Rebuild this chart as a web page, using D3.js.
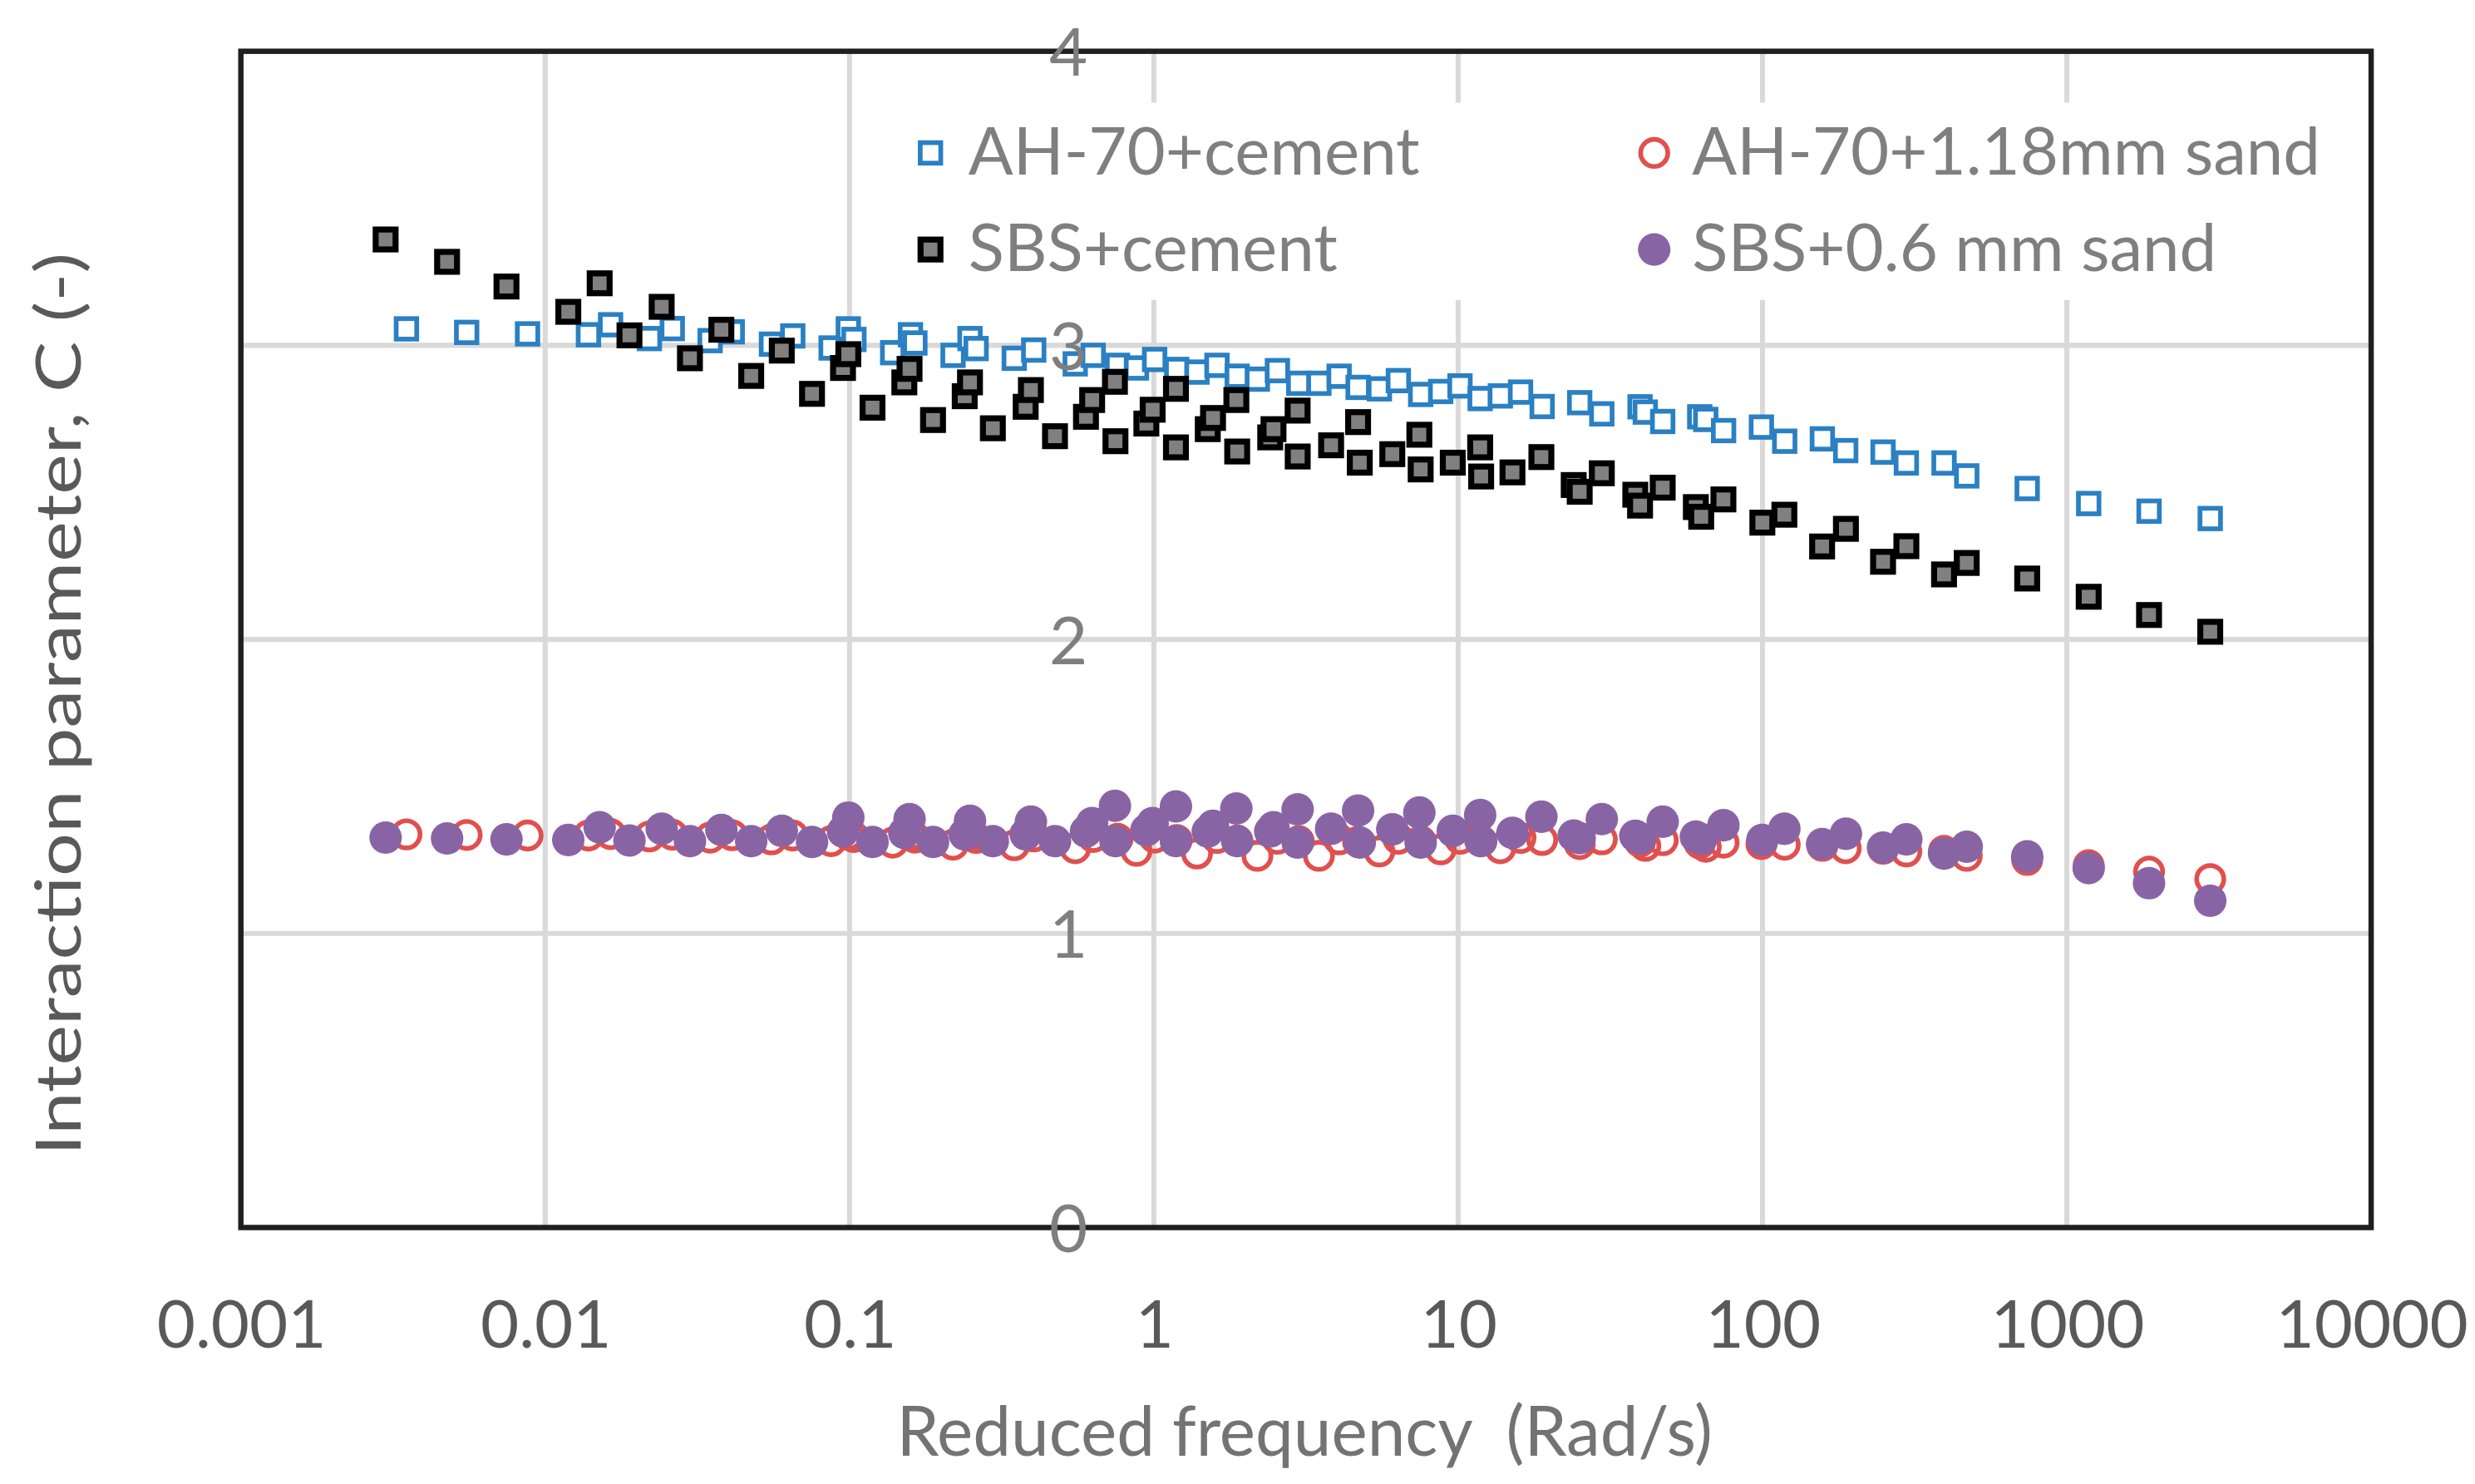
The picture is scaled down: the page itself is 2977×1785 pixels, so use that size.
<!DOCTYPE html>
<html>
<head>
<meta charset="utf-8">
<script src="https://cdn.jsdelivr.net/npm/d3@7"></script>
<style>
  html, body { margin: 0; padding: 0; background: #fff; }
  svg { display: block; }
  text { font-family: Lato, "Open Sans", sans-serif; }
</style>
</head>
<body>
<div id="chart"></div>
<script>
// Interaction parameter C vs reduced frequency, four mastics.

// AH-70 series share the same reduced frequencies (rad/s)
const freqAH = [0.0035, 0.00552, 0.00875, 0.01387, 0.0164, 0.022, 0.02616, 0.03483, 0.04117, 0.0554,
  0.0651, 0.087, 0.0991, 0.1034, 0.1386, 0.1586, 0.164, 0.2189, 0.2488, 0.2606,
  0.3478, 0.403, 0.5517, 0.632, 0.76, 0.877, 1.006, 1.189, 1.386, 1.612,
  1.879, 2.189, 2.547, 2.993, 3.487, 4.063, 4.69, 5.51, 6.36, 7.53,
  8.76, 10.14, 11.81, 13.76, 16.03, 18.88, 25.08, 29.65, 39.6, 41.2,
  47.0, 62.2, 65.1, 74.5, 99.2, 118.3, 157.3, 187.7, 249, 297,
  395, 469, 741, 1180, 1863, 2960];

const cAHcement = [3.056, 3.044, 3.039, 3.036, 3.070, 3.023, 3.057, 3.016, 3.046, 3.004,
  3.032, 2.991, 3.056, 3.020, 2.975, 3.036, 3.008, 2.966, 3.023, 2.989,
  2.956, 2.984, 2.937, 2.966, 2.932, 2.923, 2.952, 2.918, 2.909, 2.932,
  2.895, 2.885, 2.914, 2.871, 2.871, 2.895, 2.857, 2.852, 2.880, 2.833,
  2.843, 2.862, 2.819, 2.828, 2.841, 2.792, 2.805, 2.767, 2.791, 2.773,
  2.741, 2.757, 2.748, 2.710, 2.722, 2.674, 2.682, 2.642, 2.637, 2.600,
  2.600, 2.556, 2.513, 2.462, 2.436, 2.411];

const cAHsand = [1.337, 1.335, 1.333, 1.333, 1.338, 1.330, 1.336, 1.326, 1.334, 1.320,
  1.333, 1.314, 1.335, 1.328, 1.309, 1.334, 1.326, 1.302, 1.333, 1.325,
  1.300, 1.330, 1.290, 1.328, 1.322, 1.281, 1.326, 1.318, 1.272, 1.325,
  1.316, 1.264, 1.322, 1.314, 1.264, 1.320, 1.312, 1.279, 1.322, 1.314,
  1.286, 1.322, 1.315, 1.290, 1.325, 1.318, 1.304, 1.320, 1.312, 1.298,
  1.317, 1.306, 1.295, 1.309, 1.304, 1.302, 1.298, 1.290, 1.288, 1.279,
  1.281, 1.264, 1.250, 1.232, 1.210, 1.185];

// SBS series share their own frequencies
const freqSBS = [0.00299, 0.00476, 0.00746, 0.01191, 0.0151, 0.01892, 0.02414, 0.0299, 0.03792, 0.04753,
  0.0599, 0.0753, 0.0952, 0.0991, 0.119, 0.1514, 0.1575, 0.1881, 0.2391, 0.2488,
  0.2958, 0.3792, 0.3945, 0.4734, 0.5984, 0.627, 0.748, 0.745, 0.945, 0.991,
  1.182, 1.182, 1.504, 1.565, 1.867, 1.879, 2.412, 2.473, 2.968, 2.97,
  3.824, 4.69, 4.75, 6.075, 7.455, 7.53, 9.6, 11.81, 11.9, 15.08,
  18.77, 23.97, 25.08, 29.65, 38.2, 39.6, 47.0, 60.4, 62.9, 74.4,
  99.9, 118, 157, 188, 249, 297, 395, 469, 741, 1180,
  1863, 2960];

const cSBScement = [3.360, 3.284, 3.200, 3.114, 3.211, 3.034, 3.131, 2.956, 3.053, 2.896,
  2.982, 2.835, 2.923, 2.970, 2.788, 2.874, 2.920, 2.746, 2.827, 2.874,
  2.718, 2.791, 2.848, 2.691, 2.757, 2.814, 2.674, 2.876, 2.734, 2.781,
  2.852, 2.653, 2.715, 2.753, 2.814, 2.639, 2.687, 2.715, 2.778, 2.622,
  2.660, 2.739, 2.601, 2.630, 2.696, 2.578, 2.601, 2.653, 2.554, 2.568,
  2.620, 2.525, 2.502, 2.565, 2.492, 2.455, 2.516, 2.450, 2.417, 2.476,
  2.397, 2.424, 2.316, 2.376, 2.264, 2.317, 2.221, 2.260, 2.207, 2.145,
  2.083, 2.026];

const cSBSsand = [1.326, 1.323, 1.320, 1.318, 1.361, 1.316, 1.356, 1.314, 1.352, 1.314,
  1.349, 1.311, 1.347, 1.394, 1.311, 1.342, 1.389, 1.311, 1.337, 1.383,
  1.314, 1.337, 1.380, 1.314, 1.347, 1.375, 1.314, 1.434, 1.351, 1.375,
  1.432, 1.314, 1.347, 1.366, 1.425, 1.314, 1.347, 1.361, 1.422, 1.309,
  1.356, 1.418, 1.309, 1.354, 1.411, 1.309, 1.349, 1.403, 1.314, 1.342,
  1.397, 1.333, 1.324, 1.389, 1.332, 1.324, 1.380, 1.329, 1.321, 1.368,
  1.318, 1.356, 1.304, 1.339, 1.292, 1.320, 1.272, 1.295, 1.262, 1.222,
  1.171, 1.111];

const seriesNames = ['AH-70+cement', 'AH-70+1.18mm sand', 'SBS+cement', 'SBS+0.6 mm sand'];

const xTicks = [0.001, 0.01, 0.1, 1, 10, 100, 1000, 10000];
const xTickLabels = ['0.001', '0.01', '0.1', '1', '10', '100', '1000', '10000'];
const yTicks = [0, 1, 2, 3, 4];

const xTitle = 'Reduced frequency  (Rad/s)';
const yTitle = 'Interaction parameter, C (-)';

// ---- drawing ----
const W = 1568, H = 940;   // drawing units, scaled up to the 2977x1785 page
const plot = { left: 152.6, right: 1502.2, top: 32.4, bottom: 777.6 };

const svg = d3.select('#chart').append('svg')
  .attr('width', 2977).attr('height', 1785)
  .attr('viewBox', `0 0 ${W} ${H}`);

const x = d3.scaleLog().domain([0.001, 10000]).range([plot.left, plot.right]);
const y = d3.scaleLinear().domain([0, 4]).range([plot.bottom, plot.top]);

const grid = svg.append('g').attr('class', 'grid')
  .attr('stroke', '#d9d9d9').attr('stroke-width', 3.2);
grid.selectAll('line.v').data(xTicks.slice(1, -1)).join('line')
  .attr('class', 'v')
  .attr('x1', d => x(d)).attr('x2', d => x(d))
  .attr('y1', y(4)).attr('y2', y(0));
grid.selectAll('line.h').data(yTicks.slice(1, -1)).join('line')
  .attr('class', 'h')
  .attr('x1', x(0.001)).attr('x2', x(10000))
  .attr('y1', d => y(d)).attr('y2', d => y(d));

// legend box sits over the grid (white background)
svg.append('rect')
  .attr('x', 568).attr('y', 65).attr('width', 925).attr('height', 125)
  .attr('fill', '#fff');

// plot frame
svg.append('rect')
  .attr('x', x(0.001)).attr('y', y(4))
  .attr('width', x(10000) - x(0.001)).attr('height', y(0) - y(4))
  .attr('fill', 'none').attr('stroke', '#1f1f1f').attr('stroke-width', 3.4);

const styles = [
  { shape: 'square', size: 13, fill: '#fff', stroke: '#2a80c2', sw: 3 },
  { shape: 'circle', r: 8.6, fill: 'none', stroke: '#e0504e', sw: 3 },
  { shape: 'square', size: 12.6, fill: '#808080', stroke: '#000', sw: 3.8 },
  { shape: 'circle', r: 10.3, fill: '#8964a5', stroke: 'none', sw: 0 }
];

const series = [
  { f: freqAH, c: cAHcement },
  { f: freqAH, c: cAHsand },
  { f: freqSBS, c: cSBScement },
  { f: freqSBS, c: cSBSsand }
];

function drawMarkers(g, pts, st) {
  if (st.shape === 'square') {
    g.selectAll('rect').data(pts).join('rect')
      .attr('x', d => d[0] - st.size / 2).attr('y', d => d[1] - st.size / 2)
      .attr('width', st.size).attr('height', st.size)
      .attr('fill', st.fill).attr('stroke', st.stroke).attr('stroke-width', st.sw);
  } else {
    g.selectAll('circle').data(pts).join('circle')
      .attr('cx', d => d[0]).attr('cy', d => d[1]).attr('r', st.r)
      .attr('fill', st.fill).attr('stroke', st.stroke).attr('stroke-width', st.sw);
  }
}

series.forEach((s, i) => {
  const pts = s.f.map((f, j) => [x(f), y(s.c[j])]);
  drawMarkers(svg.append('g').attr('class', 'series-' + i), pts, styles[i]);
});

// legend, two columns
const legendCols = [589.5, 1048];
const legendRows = [96.8, 158];
seriesNames.forEach((name, i) => {
  const lx = legendCols[i % 2], ly = legendRows[Math.floor(i / 2)];
  const g = svg.append('g').attr('class', 'legend-item');
  drawMarkers(g, [[lx, ly]], styles[i]);
  g.append('text')
    .attr('x', lx + 24).attr('y', ly + 13.8)
    .attr('font-size', 42).attr('fill', '#7f7f7f')
    .text(name);
});

// x axis labels
const xAxis = svg.append('g').attr('transform', `translate(0,${plot.bottom})`)
  .call(d3.axisBottom(x).tickValues(xTicks).tickSize(0).tickPadding(0)
    .tickFormat((d, i) => xTickLabels[i]));
xAxis.select('.domain').remove();
xAxis.selectAll('text')
  .attr('font-family', 'Lato').attr('font-size', 42).attr('fill', '#595959')
  .attr('dy', null).attr('y', 76);

// y axis labels (Excel places them next to a crossing axis inside the plot)
const yAxis = svg.append('g').attr('transform', 'translate(689,0)')
  .call(d3.axisLeft(y).tickValues(yTicks).tickSize(0).tickPadding(0)
    .tickFormat(d3.format('d')));
yAxis.select('.domain').remove();
yAxis.selectAll('text')
  .attr('font-family', 'Lato').attr('font-size', 42).attr('fill', '#7f7f7f')
  .attr('dy', '0.36em');

// axis titles
svg.append('text')
  .attr('x', (568 + 1085) / 2).attr('y', 922)
  .attr('text-anchor', 'middle')
  .attr('font-size', 44).attr('fill', '#737373')
  .attr('textLength', 517).attr('lengthAdjust', 'spacingAndGlyphs')
  .style('white-space', 'pre')
  .text(xTitle);

svg.append('text')
  .attr('transform', `translate(51,${(160 + 732) / 2}) rotate(-90)`)
  .attr('text-anchor', 'middle')
  .attr('font-family', '"Open Sans", sans-serif')
  .attr('font-size', 40).attr('fill', '#595959')
  .attr('textLength', 572).attr('lengthAdjust', 'spacingAndGlyphs')
  .text(yTitle);
</script>
</body>
</html>
